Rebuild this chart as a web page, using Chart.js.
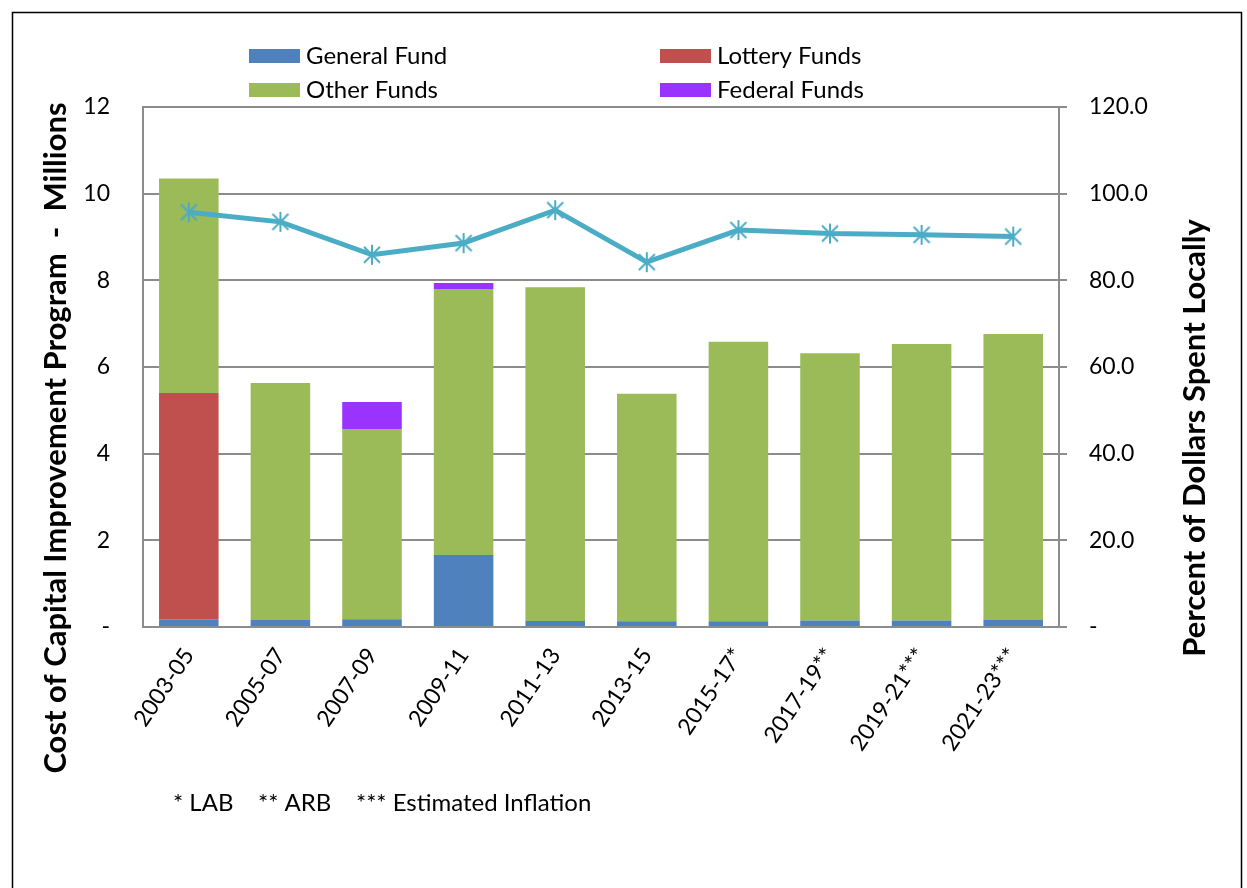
<!DOCTYPE html>
<html><head><meta charset="utf-8">
<script src="https://cdn.jsdelivr.net/npm/chart.js@4/dist/chart.umd.min.js"></script>
<style>html,body{margin:0;padding:0;background:#fff}#wrap{position:absolute;left:0;top:0;width:1247px;height:888px}</style>
</head><body><div id="wrap"><canvas id="c" width="1247" height="888"></canvas></div>
<script>
const categories = ['2003-05','2005-07','2007-09','2009-11','2011-13','2013-15','2015-17*','2017-19**','2019-21***','2021-23***'];
const generalFund  = [0.18, 0.16, 0.18, 1.66, 0.14, 0.13, 0.13, 0.15, 0.15, 0.16];
const lotteryFunds = [5.22, 0, 0, 0, 0, 0, 0, 0, 0, 0];
const otherFunds   = [4.95, 5.47, 4.39, 6.14, 7.70, 5.25, 6.45, 6.17, 6.38, 6.60];
const federalFunds = [0, 0, 0.62, 0.14, 0, 0, 0, 0, 0, 0];
const pctLocal     = [95.7, 93.5, 85.9, 88.6, 96.2, 84.2, 91.6, 90.8, 90.5, 90.1];
const leftTicks  = [0, 2, 4, 6, 8, 10, 12];
const rightTicks = [0, 20, 40, 60, 80, 100, 120];
const legendNames = ['General Fund','Lottery Funds','Other Funds','Federal Funds'];
const colors = ['#4F81BD','#C0504D','#9BBB59','#9B33FF'];
const lineColor = '#4BACC6';
const FONT = 'Lato, "Open Sans", sans-serif';

// asterisk marker
const star = document.createElement('canvas');
star.width = 24; star.height = 24;
(function(){const g=star.getContext('2d');g.strokeStyle=lineColor;g.lineWidth=2;g.beginPath();
 g.moveTo(12,2);g.lineTo(12,22);g.moveTo(4,4);g.lineTo(20,20);g.moveTo(20,4);g.lineTo(4,20);g.stroke();})();

const decor = {
  id:'decor',
  afterDraw(chart){
    const ctx = chart.ctx, a = chart.chartArea;
    ctx.save();
    // frame
    ctx.strokeStyle='#000'; ctx.lineWidth=1.5;
    ctx.strokeRect(12.5,12.5,1229,900);
    // legend
    ctx.font = '24px '+FONT; ctx.textBaseline='middle'; ctx.textAlign='left';
    const cols=[a.left+106, a.left+517], rows=[a.top-51, a.top-17];
    legendNames.forEach((n,i)=>{
      const x=cols[i%2], y=rows[Math.floor(i/2)];
      ctx.fillStyle=colors[i]; ctx.fillRect(x,y-7,51,14);
      ctx.fillStyle='#000'; ctx.fillText(n,x+57,y);
    });
    // titles
    ctx.font = 'bold 31px '+FONT; ctx.textAlign='center';
    const cy = 438;
    ctx.translate(56,cy); ctx.rotate(-Math.PI/2); ctx.fillText('Cost of Capital Improvement Program  -  Millions',0,0);
    ctx.setTransform(1,0,0,1,0,0);
    ctx.translate(1195,cy); ctx.rotate(-Math.PI/2); ctx.fillText('Percent of Dollars Spent Locally',0,0);
    ctx.setTransform(1,0,0,1,0,0);
    // footnote
    ctx.font = '24px '+FONT; ctx.textAlign='left';
    ctx.fillText('* LAB    ** ARB    *** Estimated Inflation', 173, 803);
    ctx.restore();
  }
};

const grid = '#8c8c8c';
new Chart(document.getElementById('c'), {
  type:'bar',
  data:{
    labels:categories,
    datasets:[
      {type:'line', label:'Percent Local', data:pctLocal, yAxisID:'y2', borderColor:lineColor, borderWidth:5,
       pointStyle:star, pointRadius:10, order:0, tension:0},
      {label:legendNames[0], data:generalFund, backgroundColor:colors[0], stack:'s', order:1},
      {label:legendNames[1], data:lotteryFunds, backgroundColor:colors[1], stack:'s', order:1},
      {label:legendNames[2], data:otherFunds, backgroundColor:colors[2], stack:'s', order:1},
      {label:legendNames[3], data:federalFunds, backgroundColor:colors[3], stack:'s', order:1}
    ]
  },
  options:{
    responsive:false, animation:false,
    layout:{padding:{top:107,left:0,right:0,bottom:0}},
    datasets:{bar:{categoryPercentage:1, barPercentage:0.65}},
    plugins:{legend:{display:false}, tooltip:{enabled:false}},
    scales:{
      x:{stacked:true, grid:{display:false}, border:{display:true,color:grid,width:2},
         ticks:{font:{family:FONT,size:23}, color:'#000', minRotation:56, maxRotation:56, padding:8},
         afterFit(s){s.height=261;}},
      y:{stacked:true, position:'left', min:0, max:12,
         afterBuildTicks(s){s.ticks=leftTicks.map(v=>({value:v}));},
         ticks:{font:{family:FONT,size:23}, color:'#000', padding:33, callback:v=>v===0?'-':String(v)},
         grid:{color:grid, lineWidth:2, drawTicks:false}, border:{display:true,color:grid,width:2},
         afterFit(s){s.width=143;}},
      y2:{position:'right', min:0, max:120,
         afterBuildTicks(s){s.ticks=rightTicks.map(v=>({value:v}));},
         ticks:{font:{family:FONT,size:23}, color:'#000', padding:22, callback:v=>v===0?'-':v.toFixed(1)},
         grid:{drawOnChartArea:false, color:grid, lineWidth:2, tickLength:8}, border:{display:true,color:grid,width:2},
         afterFit(s){s.width=188;}}
    }
  },
  plugins:[decor]
});
</script></body></html>
